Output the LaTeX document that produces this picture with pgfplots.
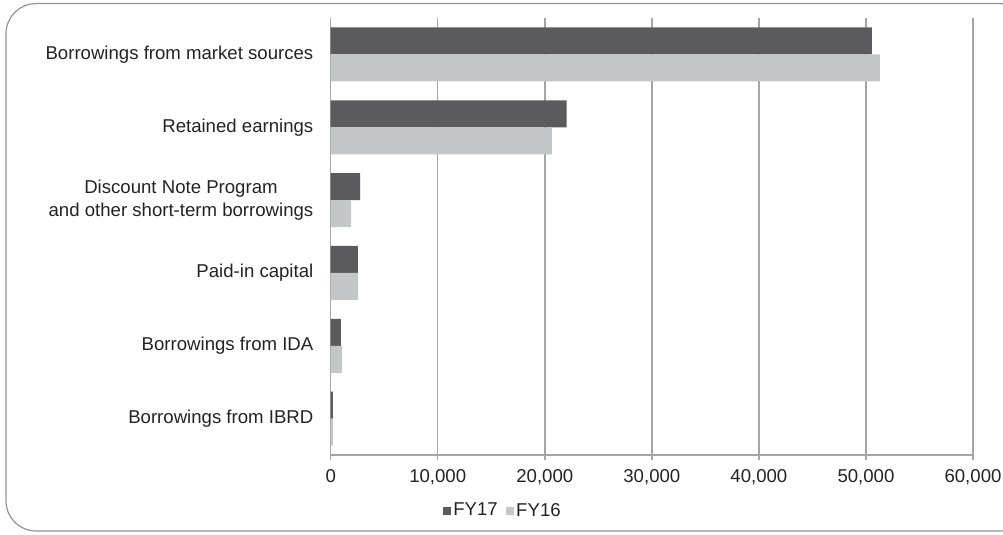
\documentclass[border=0pt]{standalone}
\usepackage{fontspec}
\setmainfont{Liberation Sans}
\usepackage{pgfplots}
\pgfplotsset{compat=1.18}

\definecolor{fysev}{RGB}{91,91,93}
\definecolor{fysix}{RGB}{197,198,200}
\definecolor{gridgray}{RGB}{165,165,165}
\definecolor{txt}{RGB}{35,35,35}

% px -> pt: 1 px = 0.5 pt
\begin{document}
\fontsize{9.3}{11.2}\selectfont
\begin{tikzpicture}
\path[use as bounding box] (0,0) rectangle (501.5pt,-267.5pt);
\begin{scope}
\clip (0,0) rectangle (501.5pt,-267.5pt);
\draw[gridgray!90!black, line width=0.6pt, rounded corners=15pt]
  (3pt,-1.8pt) rectangle (515pt,-265.5pt);
\end{scope}
\begin{axis}[
    at={(165.35pt,-227.5pt)}, anchor=south west,
    scale only axis,
    width=321.15pt, height=218.5pt,
    xbar, bar width=13.5pt,
    xmin=0, xmax=60000,
    ymin=-0.5, ymax=5.5,
    axis x line=bottom, axis y line=left,
    axis line style={gridgray, line width=0.75pt, -},
    xtick={0,10000,...,60000},
    scaled x ticks=false,
    xticklabel style={yshift=-1.2pt,
      /pgf/number format/1000 sep={,},
      /pgf/number format/assume math mode=true},
    xmajorgrids,
    major grid style={gridgray, line width=0.75pt},
    tick align=outside,
    major tick length=2.7pt,
    tick style={gridgray, line width=0.75pt},
    ytick={0,...,5},
    yticklabels={Borrowings from IBRD, Borrowings from IDA, Paid-in capital,
      {Discount Note Program\\and other short-term borrowings},
      Retained earnings, Borrowings from market sources},
    y tick style={draw=none},
    minor ytick={-0.5,0.5,...,5.5},
    minor tick length=2.5pt,
    minor y tick style={gridgray, line width=0.75pt},
    yticklabel style={align=center, xshift=-2.7pt},
    tick label style={text=txt},
    legend style={at={(0.268,-0.128)}, anchor=center, draw=none, fill=none,
      legend columns=-1, text=txt,
      /tikz/every even column/.append style={column sep=3pt},
      nodes={inner sep=1pt}},
    legend image code/.code={\fill[#1] (0pt,-2.1pt) rectangle (4.2pt,2.1pt);},
]
\addplot[fill=fysev, draw=none, bar shift=6.75pt] coordinates {
  (200,0) (960,1) (2550,2) (2740,3) (22050,4) (50560,5)};
\addplot[fill=fysix, draw=none, bar shift=-6.75pt] coordinates {
  (210,0) (1060,1) (2550,2) (1900,3) (20650,4) (51300,5)};
\legend{FY17, FY16}
\end{axis}
\end{tikzpicture}
\end{document}
